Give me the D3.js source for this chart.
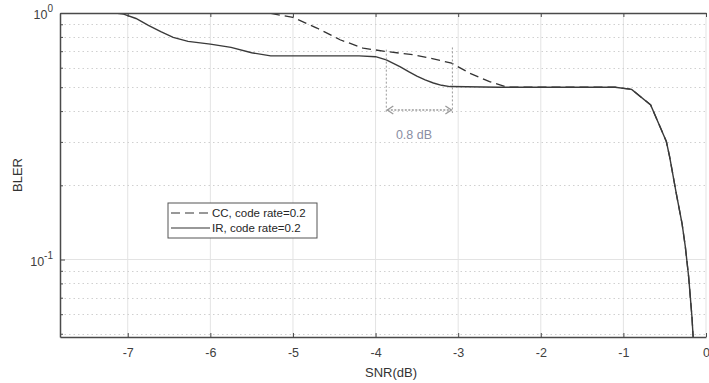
<!DOCTYPE html>
<html>
<head>
<meta charset="utf-8">
<script src="https://cdn.jsdelivr.net/npm/d3@7"></script>
<style>
  body { margin: 0; background: #fff; }
  svg { font-family: "Liberation Sans", Arial, sans-serif; }
</style>
</head>
<body>
<div id="chart"></div>
<script>
// BLER vs SNR, chase combining vs incremental redundancy
const snrIR = [-7.3, -7.15, -7.05, -6.9, -6.75, -6.6, -6.45, -6.27, -6.0, -5.75, -5.5, -5.27, -5.0, -4.5, -4.2, -4.0, -3.87, -3.7, -3.6, -3.5, -3.4, -3.3, -3.2, -3.1, -2.5, -2.0, -1.5, -1.1, -0.9, -0.67, -0.48, -0.44, -0.36, -0.29, -0.25, -0.21, -0.17, -0.15];
const blerIR = [1.0, 1.0, 0.99, 0.95, 0.89, 0.84, 0.796, 0.767, 0.748, 0.725, 0.69, 0.67, 0.67, 0.67, 0.67, 0.665, 0.646, 0.605, 0.578, 0.555, 0.535, 0.52, 0.509, 0.503, 0.5, 0.5, 0.5, 0.5, 0.49, 0.424, 0.301, 0.261, 0.1855, 0.14, 0.1125, 0.085, 0.0585, 0.045];

const snrCC = [-7.3, -6.0, -5.3, -5.0, -4.71, -4.43, -4.15, -3.87, -3.54, -3.34, -3.08, -2.86, -2.62, -2.41, -2.0, -1.5, -1.1, -0.9, -0.67, -0.48, -0.44, -0.36, -0.29, -0.25, -0.21, -0.17, -0.15];
const blerCC = [1.0, 1.0, 1.0, 0.96, 0.869, 0.779, 0.72, 0.698, 0.677, 0.656, 0.626, 0.57, 0.527, 0.5, 0.5, 0.5, 0.5, 0.49, 0.424, 0.301, 0.261, 0.1855, 0.14, 0.1125, 0.085, 0.0585, 0.045];

const xTicks = [-7, -6, -5, -4, -3, -2, -1, 0];
const yMajor = [1, 0.1];
const yMinor = [0.05, 0.06, 0.07, 0.08, 0.09, 0.2, 0.3, 0.4, 0.5, 0.6, 0.7, 0.8, 0.9];
const gapX = [-3.87, -3.07];   // 0.8 dB annotation
const legendLabels = ['CC, code rate=0.2', 'IR, code rate=0.2'];

const width = 709, height = 383;
const margin = { left: 60, right: 3, top: 13, bottom: 46 };

const svg = d3.select('#chart').append('svg')
  .attr('width', width).attr('height', height);

const x = d3.scaleLinear().domain([-7.82, 0]).range([margin.left, width - margin.right]);
const y = d3.scaleLog().domain([0.0485, 1]).range([height - margin.bottom, margin.top]);

const x0 = x.range()[0], x1 = x.range()[1];
const yTop = y.range()[1], yBot = y.range()[0];

// grid
const grid = svg.append('g');
grid.selectAll('line.vg').data(xTicks).join('line')
  .attr('x1', d => x(d)).attr('x2', d => x(d))
  .attr('y1', yTop).attr('y2', yBot)
  .attr('stroke', '#e3e3e3').attr('stroke-width', 1);
grid.selectAll('line.hg').data([0.1]).join('line')
  .attr('x1', x0).attr('x2', x1)
  .attr('y1', d => y(d)).attr('y2', d => y(d))
  .attr('stroke', '#e3e3e3').attr('stroke-width', 1);
grid.selectAll('line.mg').data(yMinor).join('line')
  .attr('x1', x0).attr('x2', x1)
  .attr('y1', d => Math.round(y(d)) + 0.5).attr('y2', d => Math.round(y(d)) + 0.5)
  .attr('stroke', '#d0d0d0').attr('stroke-width', 1)
  .attr('stroke-dasharray', '1.5,3');

// curves
svg.append('clipPath').attr('id', 'clip').append('rect')
  .attr('x', x0).attr('y', yTop).attr('width', x1 - x0).attr('height', yBot - yTop);

const line = d3.line().x(d => x(d[0])).y(d => y(d[1]));
const plot = svg.append('g').attr('clip-path', 'url(#clip)');
plot.append('path').datum(d3.zip(snrCC, blerCC))
  .attr('d', line).attr('fill', 'none')
  .attr('stroke', '#333').attr('stroke-width', 1.3)
  .attr('stroke-dasharray', '9,5');
plot.append('path').datum(d3.zip(snrIR, blerIR))
  .attr('d', line).attr('fill', 'none')
  .attr('stroke', '#3a3a3a').attr('stroke-width', 1.4);

// annotation
const ann = svg.append('g').attr('stroke', '#9a9a9a').attr('fill', 'none').attr('stroke-width', 1);
ann.append('line').attr('x1', x(gapX[0])).attr('x2', x(gapX[0]))
  .attr('y1', y(0.71)).attr('y2', y(0.393)).attr('stroke-dasharray', '2,2');
ann.append('line').attr('x1', x(gapX[1])).attr('x2', x(gapX[1]))
  .attr('y1', y(0.725)).attr('y2', y(0.393)).attr('stroke-dasharray', '2,2');
const ay = y(0.404);
ann.append('line').attr('x1', x(gapX[0]) + 1).attr('x2', x(gapX[1]) - 1)
  .attr('y1', ay).attr('y2', ay).attr('stroke-dasharray', '2,1.5').attr('stroke-width', 1.5);
ann.append('path')
  .attr('d', `M${x(gapX[0]) + 7},${ay - 4} L${x(gapX[0]) + 1},${ay} L${x(gapX[0]) + 7},${ay + 4}`)
  .attr('stroke-width', 1.3);
ann.append('path')
  .attr('d', `M${x(gapX[1]) - 7},${ay - 4} L${x(gapX[1]) - 1},${ay} L${x(gapX[1]) - 7},${ay + 4}`)
  .attr('stroke-width', 1.3);
svg.append('text').attr('x', x(-3.535)).attr('y', y(0.404) + 29)
  .attr('text-anchor', 'middle').attr('font-size', 12.5).attr('fill', '#8a8ea3')
  .text('0.8 dB');

// axes
const axisColor = '#4a4a4a';
const gBottom = svg.append('g').attr('transform', `translate(0,${yBot})`)
  .call(d3.axisBottom(x).tickValues(xTicks).tickFormat(d => String(d)).tickSizeInner(-4).tickSizeOuter(0).tickPadding(11));
const gTop = svg.append('g').attr('transform', `translate(0,${yTop})`)
  .call(d3.axisTop(x).tickValues(xTicks).tickFormat('').tickSizeInner(-4).tickSizeOuter(0));
const gLeft = svg.append('g').attr('transform', `translate(${x0},0)`)
  .call(d3.axisLeft(y).tickValues(yMajor.concat(yMinor)).tickFormat('')
    .tickSizeInner(-3).tickSizeOuter(0));
[gBottom, gTop, gLeft].forEach(g => {
  g.select('.domain').attr('stroke', axisColor).attr('stroke-width', 1.5);
  g.selectAll('.tick line').attr('stroke', axisColor);
  g.selectAll('.tick text').attr('fill', '#404040').attr('font-size', 12.5)
    .attr('font-family', '"Liberation Sans", Arial, sans-serif');
});
gLeft.selectAll('.tick line').attr('x2', d => yMajor.includes(d) ? 5 : 3);

// power-of-ten labels
const yl = svg.append('g').attr('fill', '#404040');
yMajor.forEach(v => {
  const t = yl.append('text').attr('x', x0 - 7).attr('y', y(v) + 6)
    .attr('text-anchor', 'end').attr('font-size', 12.5);
  t.append('tspan').text('10');
  t.append('tspan').attr('dy', -7).attr('font-size', 10).text(String(Math.round(Math.log10(v))));
});

// axis titles
svg.append('text').attr('x', (x0 + x1) / 2 + 8).attr('y', height - 6)
  .attr('text-anchor', 'middle').attr('font-size', 13).attr('fill', '#333')
  .text('SNR(dB)');
svg.append('text').attr('transform', `translate(22,${(yTop + yBot) / 2}) rotate(-90)`)
  .attr('text-anchor', 'middle').attr('font-size', 13).attr('fill', '#333')
  .text('BLER');

// legend
const lg = svg.append('g').attr('transform', 'translate(168,203)');
lg.append('rect').attr('width', 149).attr('height', 35)
  .attr('fill', '#fff').attr('stroke', '#555').attr('stroke-width', 1);
legendLabels.forEach((lab, i) => {
  const ly = 10 + i * 15;
  lg.append('line').attr('x1', 3).attr('x2', 42).attr('y1', ly).attr('y2', ly)
    .attr('stroke', '#333').attr('stroke-width', 1.2)
    .attr('stroke-dasharray', i === 0 ? '9,5' : null);
  lg.append('text').attr('x', 44).attr('y', ly + 4).attr('font-size', 11.5)
    .attr('fill', '#262626').text(lab);
});
</script>
</body>
</html>
